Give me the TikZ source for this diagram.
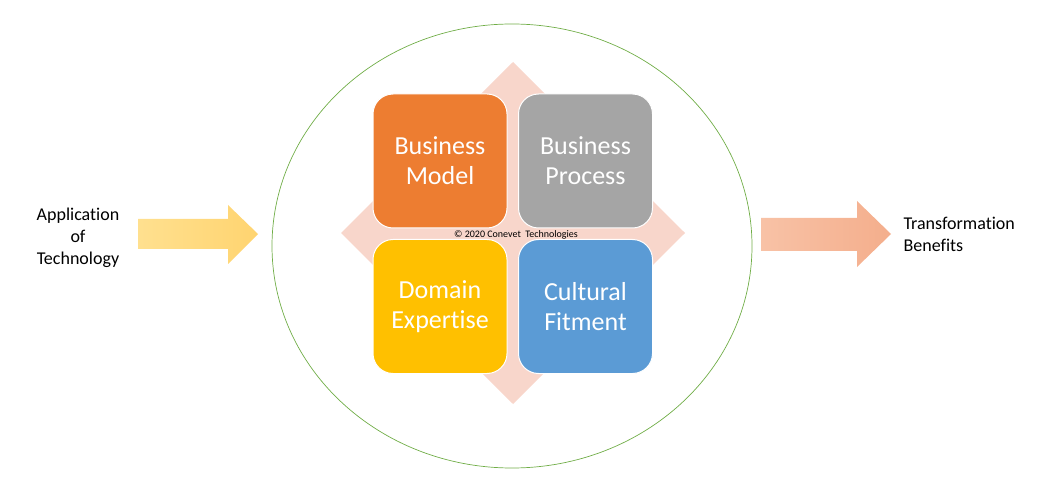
\documentclass[tikz,border=0pt]{standalone}
\usepackage{fontspec}
\setmainfont[Ligatures=NoCommon]{Carlito}
\definecolor{bmorange}{HTML}{ED7D31}
\definecolor{bpgray}{HTML}{A5A5A5}
\definecolor{deyellow}{HTML}{FFC000}
\definecolor{cfblue}{HTML}{5B9BD5}
\definecolor{backpink}{HTML}{F8D6CB}
\definecolor{ringgreen}{HTML}{70AD47}
\definecolor{inlight}{HTML}{FFE08F}
\definecolor{indark}{HTML}{FFD470}
\definecolor{outlight}{HTML}{F8C2A6}
\definecolor{outdark}{HTML}{F4AE8C}
\tikzset{
  tile/.style={draw=white, line width=1pt, rounded corners=20pt, minimum width=134pt, minimum height=134pt, inner sep=0pt, text=white, align=center, font=\fontsize{26}{30}\selectfont},
  sidelabel/.style={align=center, font=\fontsize{18}{22}\selectfont}
}
\begin{document}
\begin{tikzpicture}[x=1pt,y=-1pt]
        \useasboundingbox (0,0) rectangle (1054,486);
        \fill[backpink] (513,62) -- (685,233) -- (513,404) -- (341,233) -- cycle;
        \draw[ringgreen, line width=0.7pt] (512,246) ellipse [x radius=240, y radius=222];
        \node[tile, fill=bmorange] (model) at (440,161) {Business\\Model};
        \node[tile, fill=bpgray] (process) at (585.5,161) {Business\\Process};
        \node[tile, fill=deyellow] (domain) at (440,306.5) {Domain\\Expertise};
        \node[tile, fill=cfblue] (culture) at (585.5,306.5) {Cultural\\Fitment};
        \node[font=\fontsize{10}{11}\selectfont] (copy) at (516,235) {© 2020 Conevet\ \ Technologies};
        \shade[left color=inlight, right color=indark] (138,219) -- (228,219) -- (228,205) -- (258,234) -- (228,264) -- (228,249) -- (138,249) -- cycle;
        \shade[left color=outlight, right color=outdark] (761,218) -- (857,218) -- (857,201) -- (891,234) -- (857,267) -- (857,251) -- (761,251) -- cycle;
        \node[sidelabel] (appl) at (78,238) {Application\\of\\Technology};
        \node[sidelabel, align=left, anchor=west] (benefit) at (900,234) {Transformation\\Benefits};
\end{tikzpicture}
\end{document}
